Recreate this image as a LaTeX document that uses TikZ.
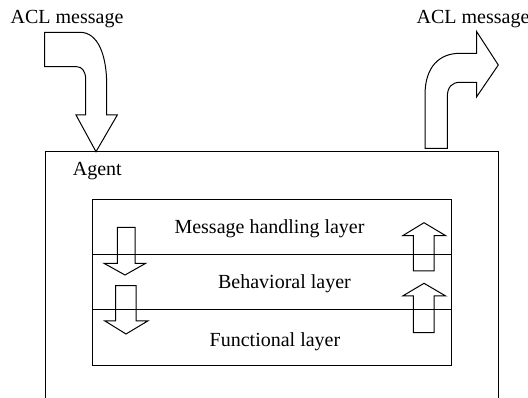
\documentclass[tikz,border=0pt]{standalone}
\usepackage{fontspec}
\setmainfont{Liberation Serif}
\begin{document}
\begin{tikzpicture}[x=1pt,y=-1pt,
  line/.style={draw=black,line width=1pt,line join=miter},
  lbl/.style={inner sep=0pt,font=\fontsize{20}{23}\selectfont}]
\useasboundingbox (0,0) rectangle (528,398);
% labels
\node[lbl,anchor=base] (aclin) at (67,23.3) {ACL message};
\node[lbl,anchor=base] (aclout) at (473,23.3) {ACL message};
\node[lbl,anchor=base west] (agent) at (72.7,176) {Agent};
\node[lbl,anchor=base] (mh) at (269.5,233.3) {Message handling layer};
\node[lbl,anchor=base] (bh) at (284.5,288.3) {Behavioral layer};
\node[lbl,anchor=base] (fn) at (275,346.7) {Functional layer};
% agent box (open at bottom, runs off the page)
\draw[line] (45,398) -- (45,152) -- (498,152) -- (498,398);
% layer box
\draw[line] (92.7,199.3) rectangle (451,366);
\draw[line] (92.7,254.3) -- (451,254.3);
\draw[line] (92.7,309.3) -- (451,309.3);
% incoming curved arrow
\draw[line] (44.7,32.3) -- (80,32.3)
  .. controls (98,32.3) and (106.7,55) .. (106.7,85) -- (106.7,115)
  -- (117.3,115) -- (96,151.7) -- (76,115) -- (85.7,115) -- (85.7,80)
  .. controls (85.7,71) and (82,66.7) .. (76.7,66.7) -- (44.7,66.7) -- cycle;
% outgoing curved arrow
\draw[line] (425,148.3) -- (425,95)
  .. controls (425,66) and (440,53.3) .. (460,53.3) -- (476.7,53.3)
  -- (476.7,31.7) -- (498.3,65) -- (476.7,96.7) -- (476.7,82.3) -- (460,82.3)
  .. controls (452,82.3) and (447.3,87) .. (447.3,97) -- (447.3,148.3) -- cycle;
% down arrows (left)
\draw[line] (117.3,227.3) -- (135,227.3) -- (135,263.3) -- (145.7,263.3) -- (125,275)
  -- (104,263.3) -- (117.3,263.3) -- cycle;
\draw[line] (115.7,285.7) -- (136,285.7) -- (136,321) -- (147.7,321) -- (126,334)
  -- (105,321) -- (115.7,321) -- cycle;
% up arrows (right)
\draw[line] (413.3,271) -- (434,271) -- (434,235.7) -- (445.7,235.7) -- (424,222.7)
  -- (402.7,235.7) -- (413.3,235.7) -- cycle;
\draw[line] (413.3,332.7) -- (434,332.7) -- (434,296) -- (445.7,296) -- (424,283.3)
  -- (402.7,296) -- (413.3,296) -- cycle;
\end{tikzpicture}
\end{document}
